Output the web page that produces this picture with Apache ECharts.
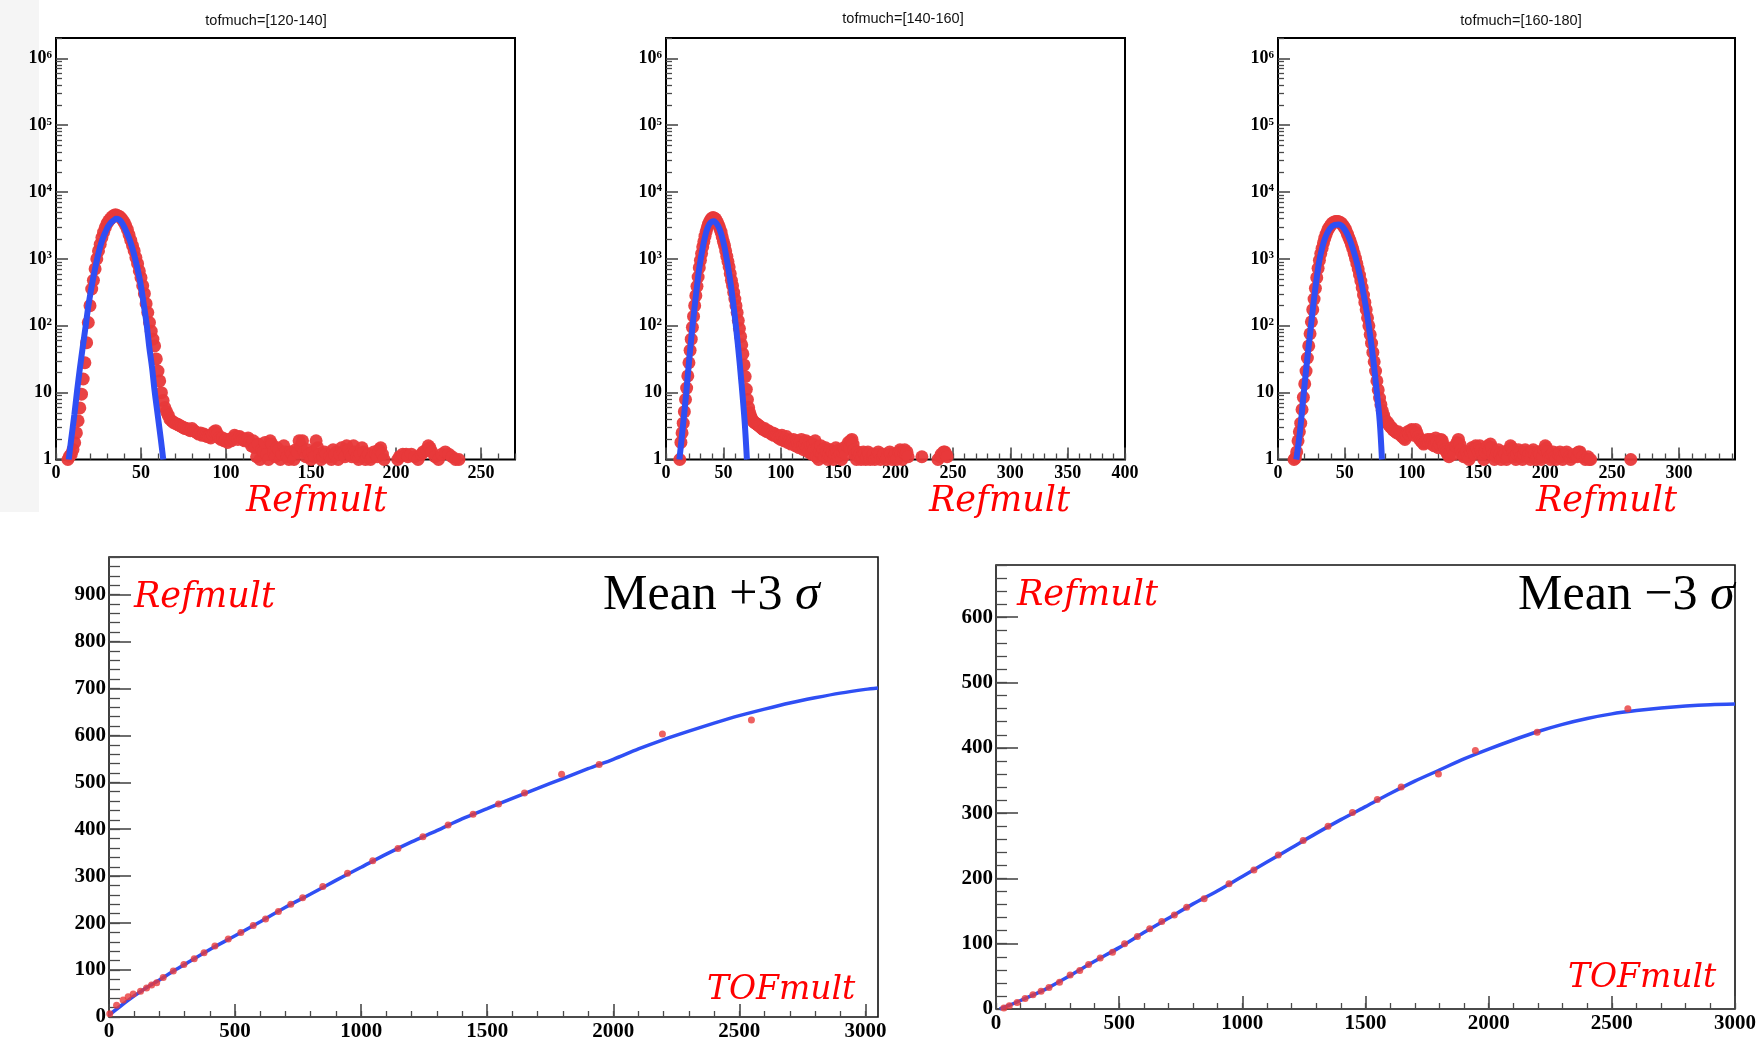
<!DOCTYPE html>
<html><head><meta charset="utf-8">
<script src="https://cdn.jsdelivr.net/npm/echarts@6/dist/echarts.min.js"></script>
<style>html,body{margin:0;padding:0;background:#fff}#c{width:1760px;height:1042px}</style>
</head><body><div id="c"></div>
<script>
// ---------------- DATA ----------------
const panelTitles = ['tofmuch=[120-140]', 'tofmuch=[140-160]', 'tofmuch=[160-180]'];
const topXMax = [270, 400, 342];
const topXTicks = [[0,50,100,150,200,250],[0,50,100,150,200,250,300,350,400],[0,50,100,150,200,250,300]];
const logTickExp = [0,1,2,3,4,5,6];

// panel 1 histogram (Refmult counts), integer Refmult starting at h1Start
const h1Start = 7;
const h1Core = [1,1.12,1.2,1.41,1.78,2.5,3.8,5.9,9.5,16,28,56,112,200,355,479,708,1000,1318,1660,2089,2512,2951,3388,3715,3981,4266,4467,4571,4467,4365,4169,3890,3548,3162,2754,2291,1905,1585,1318,1047,851,661,525,398,302,214,158,112,83,63,50,32,21,15,10,7.6,6.0,5.2,4.6,4.0,3.8,3.6,3.5];
const h1Tail = [[71,3.4],[72,3.3],[73,3.2],[74,3.1],[75,3.0],[76,2.9],[77,2.9],[78,2.8],[79,2.7],[80,2.9],[81,2.7],[82,2.6],[83,2.5],[84,2.4],[85,2.5],[86,2.3],[87,2.4],[88,2.3],[89,2.2],[90,2.2],[91,2.1],[92,2.4],[93,2.6],[94,2.7],[95,2.4],[96,2.1],[97,2.0],[98,2.1],[99,1.9],[100,2.0],[101,1.8],[102,2.0],[103,1.9],[104,2.1],[105,2.3],[106,2.2],[107,2.0],[108,2.2],[109,2.1],[110,2.0],[111,1.9],[112,2.0],[113,2.1],[114,1.8],[115,1.6],[116,1.9],[117,1.5],[118,1.1],[119,1.7],[120,1.0],[121,1.4],[122,1.3],[123,1.8],[124,1.2],[125,1.0],[126,1.9],[127,1.7],[128,1.3],[129,1.1],[130,1.5],[131,1.4],[132,1.0],[133,1.2],[134,1.6],[135,1.3],[136,1.1],[137,1.0],[138,1.3],[139,1.2],[140,1.0],[141,1.4],[142,1.3],[143,1.9],[144,1.6],[145,1.9],[146,1.3],[147,1.1],[148,1.4],[149,1.2],[150,1.0],[151,1.3],[152,1.1],[153,1.9],[154,1.5],[155,1.2],[156,1.0],[157,1.1],[158,1.3],[159,1.2],[161,1.1],[162,1.0],[163,1.4],[164,1.2],[165,1.3],[166,1.0],[167,1.2],[168,1.5],[169,1.3],[170,1.1],[171,1.6],[172,1.4],[173,1.2],[174,1.1],[175,1.6],[176,1.3],[177,1.1],[178,1.0],[179,1.2],[180,1.5],[181,1.3],[182,1.0],[183,1.1],[184,1.2],[185,1.0],[186,1.1],[187,1.3],[188,1.2],[189,1.1],[190,1.4],[191,1.5],[192,1.2],[193,1.0],[201,1.0],[202,1.1],[204,1.2],[206,1.2],[207,1.1],[209,1.2],[211,1.1],[213,1.0],[215,1.2],[216,1.3],[218,1.4],[219,1.6],[220,1.5],[221,1.3],[223,1.1],[225,1.0],[227,1.2],[229,1.3],[231,1.2],[233,1.1],[235,1.0],[237,1.0]];
const fit1X = [7.5,8.8,10.8,12.4,14.1,15.7,17.6,19.2,21.6,24.3,27.1,30.4,32.5,34.3,35.3,37.3,38.5,40.2,43.5,46.5,49.4,51.6,53.3,54.9,56.5,58.0,59.8,61.8,63.1];
const fit1Y = [1,1.88,4.7,10.6,23.7,47.3,106,211,473,1023,1884,2985,3548,3846,3981,3846,3548,2985,1884,1023,473,211,106,47.3,23.7,10.6,4.7,1.88,1];

// panel 2
const h2Start = 12;
const h2Core = [1.0,1.8,2.5,3.5,5.2,7.9,11.7,17.8,28,43,63,95,138,200,282,389,537,741,955,1202,1514,1820,2188,2570,2951,3311,3631,3890,4074,4169,4074,3981,3715,3467,3162,2818,2512,2138,1820,1585,1318,1096,912,759,603,479,398,316,251,200,158,120,91,69,52,38,26,17.4,11.2,7.9,6.0,5.0,4.4,4.0];
const h2Tail = [[76,3.7],[77,3.6],[78,3.5],[79,3.4],[80,3.3],[81,3.2],[82,3.1],[83,3.0],[84,2.9],[85,2.8],[86,2.9],[87,2.7],[88,2.6],[89,2.7],[90,2.6],[91,2.5],[92,2.4],[93,2.5],[94,2.3],[95,2.4],[96,2.3],[97,2.2],[98,2.1],[99,2.2],[100,2.0],[101,2.3],[102,2.1],[103,1.9],[104,2.0],[105,2.2],[106,1.8],[107,2.0],[108,1.9],[109,1.7],[110,1.9],[111,2.0],[112,1.8],[113,1.6],[114,1.9],[115,1.7],[116,1.5],[117,1.8],[118,2.0],[119,1.6],[120,1.4],[121,1.7],[122,1.9],[123,1.5],[124,1.3],[125,1.8],[126,1.6],[127,1.2],[128,1.7],[129,1.4],[130,1.9],[131,1.1],[132,1.5],[133,1.0],[134,1.3],[135,1.6],[136,1.2],[137,1.4],[138,1.1],[139,1.5],[140,1.3],[141,1.0],[142,1.2],[143,1.4],[144,1.1],[145,1.3],[146,1.0],[147,1.2],[148,1.5],[149,1.3],[150,1.1],[151,1.4],[152,1.2],[153,1.0],[154,1.3],[155,1.5],[156,1.4],[157,1.2],[158,1.6],[159,1.8],[160,1.5],[161,1.9],[162,2.0],[163,1.7],[164,1.4],[165,1.2],[166,1.0],[167,1.3],[168,1.1],[169,1.2],[170,1.0],[171,1.1],[172,1.3],[173,1.2],[174,1.0],[175,1.1],[176,1.3],[177,1.2],[178,1.0],[180,1.1],[181,1.2],[182,1.0],[184,1.1],[185,1.3],[186,1.2],[187,1.0],[189,1.1],[190,1.2],[192,1.0],[193,1.1],[195,1.3],[196,1.2],[197,1.0],[199,1.1],[200,1.2],[201,1.0],[203,1.3],[204,1.4],[205,1.2],[206,1.0],[207,1.3],[208,1.4],[209,1.2],[210,1.3],[211,1.1],[223,1.1],[237,1.0],[239,1.1],[240,1.2],[242,1.3],[243,1.3],[244,1.2],[245,1.1]];
const fit2X = [11.7,14.6,17.5,20.4,23.3,26.2,29.1,32.1,35.0,37.9,41.7,45.2,48.1,51.0,53.9,56.8,59.7,62.6,65.6,68.5,70.5];
const fit2Y = [1,2.99,9.4,33.5,106,299,750,1496,2512,3350,3673,3162,2371,1496,794,376,150,53,15,3.76,1];

// panel 3
const h3Start = 12;
const h3Core = [1.0,1.05,1.3,1.9,2.6,3.5,5.6,8.5,13.5,21,33,50,76,115,174,251,363,525,724,955,1202,1445,1738,2042,2344,2630,2884,3090,3311,3467,3548,3631,3631,3631,3548,3467,3311,3090,2884,2630,2344,2089,1862,1622,1413,1202,1023,851,708,575,468,372,288,224,174,132,100,74,55,40,29,21,15,11,8.3,6.6,5.4,4.6,4.0];
const h3Tail = [[81,3.6],[82,3.6],[83,3.3],[84,3.1],[85,3.0],[86,2.8],[87,2.7],[88,2.6],[89,2.5],[90,2.6],[91,2.4],[92,2.3],[93,2.2],[94,2.1],[95,2.0],[96,2.3],[97,2.6],[98,2.4],[99,2.7],[100,2.8],[101,2.6],[102,2.3],[103,2.8],[104,2.5],[105,2.2],[106,2.0],[107,1.9],[108,1.8],[109,1.7],[110,1.8],[111,1.9],[112,2.0],[113,1.8],[114,2.0],[115,1.7],[116,1.9],[117,1.6],[118,2.1],[119,1.8],[120,1.5],[121,1.7],[122,2.0],[123,1.9],[124,1.6],[125,1.4],[126,1.3],[127,1.2],[128,1.1],[129,1.3],[130,1.5],[131,1.4],[132,1.2],[133,1.6],[134,1.8],[135,2.0],[136,1.7],[137,1.4],[138,1.2],[139,1.1],[140,1.2],[141,1.3],[142,1.1],[143,1.0],[144,1.3],[145,1.5],[146,1.4],[147,1.2],[148,1.6],[149,1.5],[150,1.3],[151,1.6],[152,1.4],[153,1.2],[154,1.0],[155,1.3],[156,1.5],[157,1.6],[158,1.4],[159,1.7],[160,1.5],[161,1.2],[162,1.0],[163,1.1],[164,1.3],[165,1.4],[166,1.2],[167,1.0],[168,1.1],[169,1.3],[170,1.2],[171,1.0],[172,1.1],[173,1.4],[174,1.6],[175,1.5],[176,1.3],[177,1.1],[178,1.0],[179,1.2],[180,1.4],[181,1.3],[182,1.1],[183,1.0],[184,1.2],[185,1.4],[186,1.3],[187,1.1],[188,1.2],[189,1.0],[190,1.3],[191,1.4],[192,1.2],[193,1.0],[194,1.1],[195,1.3],[196,1.2],[197,1.0],[198,1.1],[199,1.4],[200,1.6],[201,1.5],[202,1.3],[203,1.1],[204,1.0],[205,1.2],[206,1.3],[207,1.1],[208,1.0],[210,1.2],[211,1.3],[212,1.1],[213,1.0],[215,1.2],[216,1.3],[218,1.1],[219,1.0],[221,1.1],[222,1.2],[224,1.1],[225,1.3],[226,1.3],[228,1.1],[230,1.0],[232,1.1],[233,1.0],[234,1.0],[264,1.0]];
const fit3X = [13.7,16.2,18.7,21.2,23.7,26.2,28.7,31.2,35.0,38.7,42.4,45.4,48.7,52.4,56.1,59.9,63.6,67.4,71.1,73.6,76.1,77.8];
const fit3Y = [1,2.37,7.5,23.7,66.8,188,473,1000,1995,2818,3236,3273,2985,2239,1413,750,335,119,33.5,11.9,3.76,1];

// bottom-left: Mean +3 sigma
const upTof = [3,30,56,76,96,125,149,169,189,215,255,297,338,377,420,473,523,572,621,672,721,768,848,946,1046,1146,1245,1345,1444,1545,1648,1795,1944,2195,2548];
const upRef = [7,25,36,43,49,55,62,68,73,84,98,112,124,137,151,166,180,195,209,225,240,254,278,306,333,359,384,409,432,454,477,517,538,603,633];
const upFitTof = [0,50,100,150,200,250,300,400,500,600,700,800,900,1000,1100,1200,1300,1400,1500,1600,1700,1800,1900,2000,2100,2200,2300,2400,2500,2600,2700,2800,2900,3000,3050];
const upFitRef = [4,25,45,63,79,96,112,144,173,203,234,262,291,319,347,373,397,422,444,466,487,508,529,549,571,591,609,626,642,656,669,680,690,698,701];
const blXTicks = [0,500,1000,1500,2000,2500,3000];
const blYTicks = [0,100,200,300,400,500,600,700,800,900];

// bottom-right: Mean -3 sigma
const loTof = [32,54,86,118,150,183,215,258,301,340,376,423,473,522,574,624,673,724,774,845,946,1047,1146,1247,1348,1447,1548,1645,1796,1946,2197,2565];
const loRef = [1.5,5,10,16,22,27,33,41,52,59,68,78,87,100,111,123,134,144,156,169,192,213,236,258,280,301,321,340,360,396,424,460];
const loFitTof = [15,50,100,200,300,400,500,600,700,800,900,1000,1100,1200,1300,1400,1500,1600,1700,1800,1900,2000,2100,2200,2300,2400,2500,2600,2700,2800,2900,3000];
const loFitRef = [0,5,13,30,51,73,94,117,139,161,181,203,225,247,269,290,310,330,349,366,383,398,412,425,436,445,452,457,461,464,466,467];
const brXTicks = [0,500,1000,1500,2000,2500,3000];
const brYTicks = [0,100,200,300,400,500,600];

// ---------------- CHART ----------------
const SERIF = 'Liberation Serif';
const RED = '#e8393a';
const BLUE = '#2f4ff4';
const LOGMAX = 6.305;
const TICKC = '#4a4a4a';

function steps(a, b, s) { const r = []; for (let v = a; v <= b + 1e-9; v += s) r.push(+v.toFixed(6)); return r; }
function zip(xs, ys) { return xs.map((x, i) => [x, ys[i]]); }
function histData(start, core, tail) { return core.map((y, i) => [start + i, y]).concat(tail); }

const grids = [], xAxis = [], yAxis = [], series = [];

function mkAxes(g, pos, min, max, majors, minors, majLen, minLen, labelOpt) {
  const base = { type: 'value', gridIndex: g, min: min, max: max, position: pos,
    axisLine: { show: false }, splitLine: { show: false }, minorTick: { show: false }, minorSplitLine: { show: false } };
  const major = Object.assign({}, base, {
    axisTick: { show: true, inside: true, length: majLen, customValues: majors, lineStyle: { color: TICKC, width: 1.6 } },
    axisLabel: Object.assign({ show: true, customValues: majors }, labelOpt)
  });
  const minor = Object.assign({}, base, {
    axisTick: { show: true, inside: true, length: minLen, customValues: minors, lineStyle: { color: TICKC, width: 1.3 } },
    axisLabel: { show: false }
  });
  return [major, minor];
}

const topGrids = [
  { left: 56, top: 38, width: 459, height: 421.5 },
  { left: 666, top: 38, width: 459, height: 421.5 },
  { left: 1278, top: 38, width: 457, height: 421.5 }
];
const histSets = [
  { hist: histData(h1Start, h1Core, h1Tail), fit: zip(fit1X, fit1Y) },
  { hist: histData(h2Start, h2Core, h2Tail), fit: zip(fit2X, fit2Y) },
  { hist: histData(h3Start, h3Core, h3Tail), fit: zip(fit3X, fit3Y) }
];
const logMinor = [];
logTickExp.forEach(e => { for (let k = 2; k <= 9; k++) { const v = e + Math.log10(k); if (v <= LOGMAX) logMinor.push(v); } });

const plain = v => String(v);
const topXLabel = { margin: 5, fontFamily: SERIF, fontWeight: 'bold', fontSize: 18, color: '#000', formatter: plain };
const topYLabel = { margin: 4, color: '#000',
  formatter: v => { const e = Math.round(v); return e === 0 ? '{b|1}' : e === 1 ? '{b|10}' : '{b|10}{s|' + e + '}'; },
  rich: { b: { fontFamily: SERIF, fontWeight: 'bold', fontSize: 18, color: '#000' },
          s: { fontFamily: SERIF, fontWeight: 'bold', fontSize: 11, color: '#000', verticalAlign: 'top' } } };

topGrids.forEach((gr, i) => {
  const gi = grids.length;
  grids.push(Object.assign({ show: true, borderColor: '#000', borderWidth: 2, backgroundColor: 'transparent', containLabel: false, outerBoundsMode: 'none' }, gr));
  const xi = xAxis.length;
  xAxis.push(...mkAxes(gi, 'bottom', 0, topXMax[i], topXTicks[i], steps(0, topXMax[i], 10), 12, 6, topXLabel));
  const yi = yAxis.length;
  yAxis.push({ type: 'log', logBase: 10, gridIndex: gi, min: 1, max: Math.pow(10, LOGMAX), position: 'left', show: false });
  yAxis.push(...mkAxes(gi, 'left', 0, LOGMAX, logTickExp, logMinor, 12, 6, topYLabel));
  series.push({ type: 'scatter', xAxisIndex: xi, yAxisIndex: yi, data: histSets[i].hist, symbolSize: 13, clip: false, silent: true,
    itemStyle: { color: RED, opacity: 0.95 } });
  series.push({ type: 'line', xAxisIndex: xi, yAxisIndex: yi, data: histSets[i].fit, showSymbol: false, smooth: 0.35, silent: true,
    lineStyle: { color: BLUE, width: 6 }, z: 3 });
});

const botLabel = { margin: 4, fontFamily: SERIF, fontWeight: 'bold', fontSize: 21, color: '#000', formatter: plain };
const botYLabel = Object.assign({}, botLabel, { margin: 3 });
const botPanels = [
  { grid: { left: 109, top: 557, width: 769, height: 460 }, xmax: 3050, ymax: 980, xt: blXTicks, yt: blYTicks, pts: zip(upTof, upRef), fit: zip(upFitTof, upFitRef) },
  { grid: { left: 996, top: 565, width: 739, height: 444 }, xmax: 3000, ymax: 680, xt: brXTicks, yt: brYTicks, pts: zip(loTof, loRef), fit: zip(loFitTof, loFitRef) }
];
botPanels.forEach(p => {
  const gi = grids.length;
  grids.push(Object.assign({ show: true, borderColor: '#111', borderWidth: 1.6, backgroundColor: 'transparent', containLabel: false, outerBoundsMode: 'none' }, p.grid));
  const xi = xAxis.length;
  xAxis.push(...mkAxes(gi, 'bottom', 0, p.xmax, p.xt, steps(0, p.xmax, 100), 13, 6, botLabel));
  const yi = yAxis.length;
  yAxis.push(...mkAxes(gi, 'left', 0, p.ymax, p.yt, steps(0, p.ymax, 20), 22, 11, botYLabel));
  series.push({ type: 'line', xAxisIndex: xi, yAxisIndex: yi, data: p.fit, showSymbol: false, smooth: 0.3, silent: true,
    lineStyle: { color: BLUE, width: 3.5 } });
  series.push({ type: 'scatter', xAxisIndex: xi, yAxisIndex: yi, data: p.pts, symbolSize: 7, clip: false, silent: true,
    itemStyle: { color: RED }, z: 3 });
});

function txt(x, y, text, style, align) {
  return { type: 'text', x: x, y: y, z: 20, silent: true,
    style: Object.assign({ text: text, textAlign: align || 'left', align: align || 'left', textVerticalAlign: 'middle', verticalAlign: 'middle' }, style) };
}
const refStyle = { fill: '#ff0000', font: 'italic 35px "DejaVu Serif"' };
const tofStyle = { fill: '#ff0000', font: 'italic 33px "DejaVu Serif"' };
const meanRich = { a: { fontFamily: SERIF, fontSize: 50, fill: '#000' }, b: { fontFamily: SERIF, fontStyle: 'italic', fontSize: 50, fill: '#000' } };
const titleStyle = { fill: '#111', font: '14.5px "Liberation Sans"' };

const graphic = [
  { type: 'rect', z: -10, silent: true, shape: { x: 0, y: 0, width: 39, height: 512 }, style: { fill: '#f5f5f5' } },
  txt(266, 21, panelTitles[0], titleStyle, 'center'),
  txt(903, 19, panelTitles[1], titleStyle, 'center'),
  txt(1521, 21, panelTitles[2], titleStyle, 'center'),
  txt(246, 502, 'Refmult', refStyle),
  txt(929, 502, 'Refmult', refStyle),
  txt(1536, 502, 'Refmult', refStyle),
  txt(134, 598, 'Refmult', refStyle),
  txt(707, 990, 'TOFmult', tofStyle),
  txt(603, 596, '{a|Mean +3 }{b|σ}', { rich: meanRich, fill: '#000' }),
  txt(1017, 596, 'Refmult', refStyle),
  txt(1568, 978, 'TOFmult', tofStyle),
  txt(1518, 596, '{a|Mean \u22123 }{b|σ}', { rich: meanRich, fill: '#000' })
];

const chart = echarts.init(document.getElementById('c'), null, { renderer: 'canvas' });
chart.setOption({ animation: false, backgroundColor: '#fff', grid: grids, xAxis: xAxis, yAxis: yAxis, series: series, graphic: graphic });
</script></body></html>
